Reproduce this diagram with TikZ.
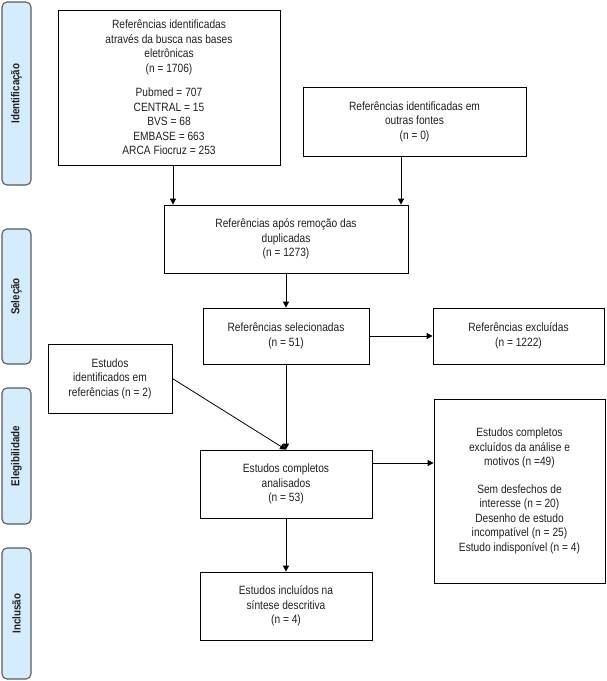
\documentclass[tikz,border=0pt]{standalone}
\usepackage{fontspec}
\setmainfont{Liberation Sans}[FakeStretch=0.85]
\usetikzlibrary{arrows.meta}
\definecolor{barfill}{HTML}{D4ECFB}
\definecolor{barline}{HTML}{5A5A5A}
\definecolor{txt}{HTML}{231F20}
\begin{document}
\begin{tikzpicture}[x=1pt,y=-1pt,
  box/.style={draw=black,line width=0.8pt,align=center,inner sep=2pt,
    font=\fontsize{12}{14.5}\selectfont,text=txt},
  bar/.style={draw=barline,fill=barfill,line width=1.1pt,rounded corners=5pt,
    minimum width=29pt,inner sep=0pt},
  barlabel/.style={rotate=90,font=\bfseries\fontsize{11.5}{12}\selectfont,text=txt},
  arr/.style={line width=0.8pt,-{Triangle[length=6pt,width=6pt]}}]
\useasboundingbox (0,0) rectangle (606,681);
% side bars
\node[bar,minimum height=183pt] (s1) at (16.5,93.5) {};
\node[barlabel] (l1) at (s1.center) {Identificação};
\node[bar,minimum height=135pt] (s2) at (16.5,296.5) {};
\node[barlabel] (l2) at (s2.center) {Seleção};
\node[bar,minimum height=136pt] (s3) at (16.5,456) {};
\node[barlabel] (l3) at (s3.center) {Elegibilidade};
\node[bar,minimum height=131pt] (s4) at (16.5,613.5) {};
\node[barlabel] (l4) at (s4.center) {Inclusão};
% boxes
\node[box,minimum width=222pt,minimum height=155pt] (b1) at (169,87.5)
  {Referências identificadas\\através da busca nas bases\\eletrônicas\\(n = 1706)\\[10pt]
   Pubmed = 707\\CENTRAL = 15\\BVS = 68\\EMBASE = 663\\ARCA Fiocruz = 253};
\node[box,minimum width=223pt,minimum height=69pt] (b2) at (414.5,121.5)
  {Referências identificadas em\\outras fontes\\(n = 0)};
\node[box,minimum width=244pt,minimum height=68pt] (b3) at (286,239)
  {Referências após remoção das\\duplicadas\\(n = 1273)};
\node[box,minimum width=166pt,minimum height=56pt] (b4) at (286,336)
  {Referências selecionadas\\(n = 51)};
\node[box,minimum width=171pt,minimum height=56pt] (b5) at (518.5,336)
  {Referências excluídas\\(n = 1222)};
\node[box,minimum width=124pt,minimum height=69pt] (b6) at (110,378.5)
  {Estudos\\identificados em\\referências (n = 2)};
\node[box,minimum width=172pt,minimum height=68pt] (b7) at (286,484)
  {Estudos completos\\analisados\\(n = 53)};
\node[box,minimum width=171pt,minimum height=184pt] (b8) at (519.5,491)
  {Estudos completos\\excluídos da análise e\\motivos (n =49)\\[13pt]
   Sem desfechos de\\interesse (n = 20)\\Desenho de estudo\\incompatível (n = 25)\\Estudo indisponível (n = 4)};
\node[box,minimum width=172pt,minimum height=68pt] (b9) at (286,606)
  {Estudos incluídos na\\síntese descritiva\\(n = 4)};
% connectors
\draw[arr] ([xshift=4pt]b1.south) -- ([xshift=4pt]b1.south |- b3.north);
\draw[arr] ([xshift=-13.5pt]b2.south) -- ([xshift=-13.5pt]b2.south |- b3.north);
\draw[arr] (b3) -- (b4);
\draw[arr] (b4) -- (b5);
\draw[arr] (b4) -- (b7);
\draw[arr] (b6.east) -- (b7.north);
\draw[arr] ([yshift=21pt]b7.east) -- ([yshift=21pt]b7.east -| b8.west);
\draw[arr] (b7) -- (b9);
\end{tikzpicture}
\end{document}
